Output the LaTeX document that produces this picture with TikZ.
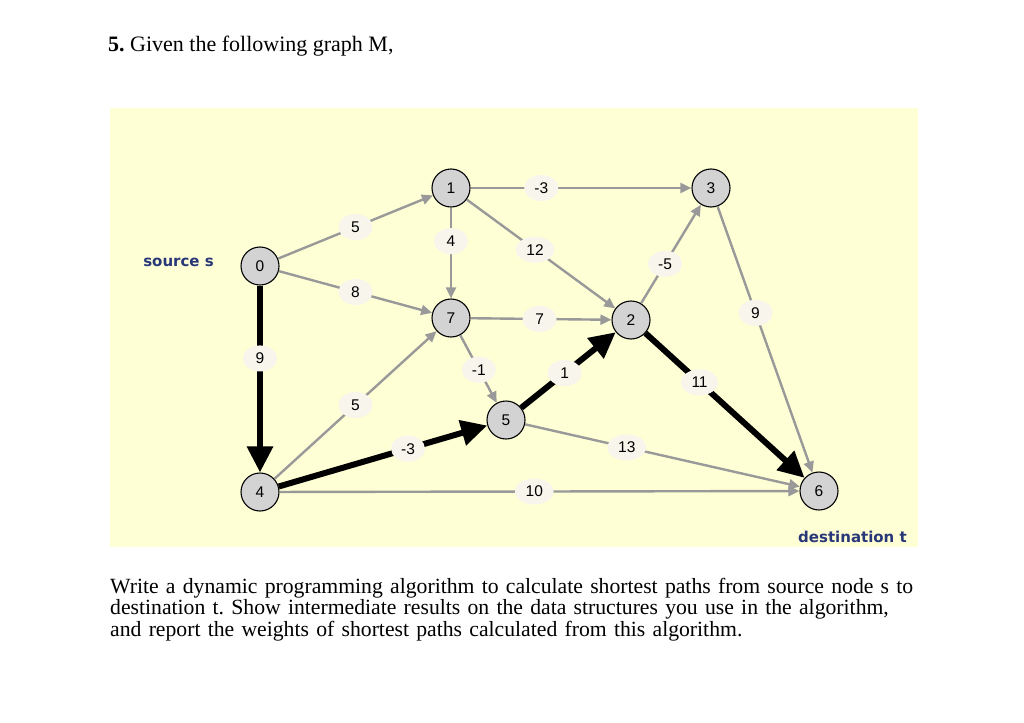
\documentclass[tikz,border=0pt]{standalone}
\usepackage{fontspec}
\setmainfont{Liberation Serif}
\newfontfamily\helv{Liberation Sans}
\newfontfamily\verd{DejaVu Sans}
\usetikzlibrary{arrows.meta,shapes.geometric}
\definecolor{bgyellow}{RGB}{255,255,214}
\definecolor{nodegray}{RGB}{211,211,211}
\definecolor{edgegray}{RGB}{153,153,153}
\definecolor{lblfill}{RGB}{247,245,236}
\definecolor{lblblue}{RGB}{40,55,120}
\begin{document}
\frenchspacing
\begin{tikzpicture}[x=1pt,y=-1pt,
 vtx/.style={circle,draw=black,line width=1.1pt,fill=nodegray,minimum size=38pt,inner sep=0pt,font=\helv\fontsize{15.5}{15.5}\selectfont},
 ge/.style={draw=edgegray,line width=2.4pt,-{Triangle[length=11pt,width=10pt]}},
 be/.style={draw=black,line width=6pt,-{Triangle[length=26pt,width=25pt]}},
 lbl/.style={ellipse,fill=lblfill,inner xsep=5pt,inner ysep=1pt,minimum width=34pt,minimum height=26pt,font=\helv\fontsize{15.5}{15.5}\selectfont},
 side/.style={font=\verd\bfseries\fontsize{15}{15}\selectfont,text=lblblue,inner sep=0pt}
]
\useasboundingbox (0,0) rectangle (1024,722);
\fill[white] (0,0) rectangle (1024,722);
\fill[bgyellow] (110,108) rectangle (918,547);

\node[anchor=base west,inner sep=0pt,font=\fontsize{22}{22}\selectfont] (title) at (108,52) {\textbf{5.} Given the following graph M,};

\node[vtx] (n0) at (260,266) {0};
\node[vtx] (n1) at (451,188) {1};
\node[vtx] (n7) at (451,318) {7};
\node[vtx] (n4) at (260,492) {4};
\node[vtx] (n5) at (506,420) {5};
\node[vtx] (n2) at (631,320) {2};
\node[vtx] (n3) at (711,188) {3};
\node[vtx] (n6) at (819,491) {6};

\node[side,anchor=east] (src) at (214,262) {source s};
\node[side,anchor=east] (dst) at (907,537) {destination t};

\draw[ge] (n0) -- node[lbl,pos=0.5] (w01) {5} (n1);
\draw[ge] (n1) -- node[lbl,pos=0.37] (w17) {4} (n7);
\draw[ge] (n0) -- node[lbl,pos=0.5] (w07) {8} (n7);
\draw[ge] (n4) -- node[lbl,pos=0.5] (w47) {5} (n7);
\draw[ge] (n7) -- node[lbl,pos=0.51] (w75) {-1} (n5);
\draw[ge] (n4) -- node[lbl,pos=0.49] (w46) {10} (n6);
\draw[ge] (n5) -- node[lbl,pos=0.37] (w56) {13} (n6);
\draw[ge] (n3) -- node[lbl,pos=0.40] (w36) {9} (n6);
\draw[ge] (n2) -- node[lbl,pos=0.40] (w23) {-5} (n3);
\draw[ge] (n1) -- node[lbl,pos=0.46] (w12) {12} (n2);
\draw[ge] (n7) -- node[lbl,pos=0.49] (w72) {7} (n2);
\draw[ge] (n1) -- node[lbl,pos=0.32] (w13) {-3} (n3);

\draw[be] (n0) -- node[lbl,pos=0.39] (w04) {9} (n4);
\draw[be] (n4) -- node[lbl,pos=0.62] (w45) {-3} (n5);
\draw[be] (n5) -- node[lbl,pos=0.46] (w52) {1} (n2);
\draw[be] (n2) -- node[lbl,pos=0.34] (w26) {11} (n6);

\node[anchor=base west,inner sep=0pt,align=left,text width=900pt,font=\fontsize{21.7}{21.8}\selectfont] (para) at (110,593)
{Write a dynamic programming algorithm to calculate shortest paths from source node s to\\
destination t. Show intermediate results on the data structures you use in the algorithm,\\
and report the weights of shortest paths calculated from this algorithm.};
\end{tikzpicture}
\end{document}
